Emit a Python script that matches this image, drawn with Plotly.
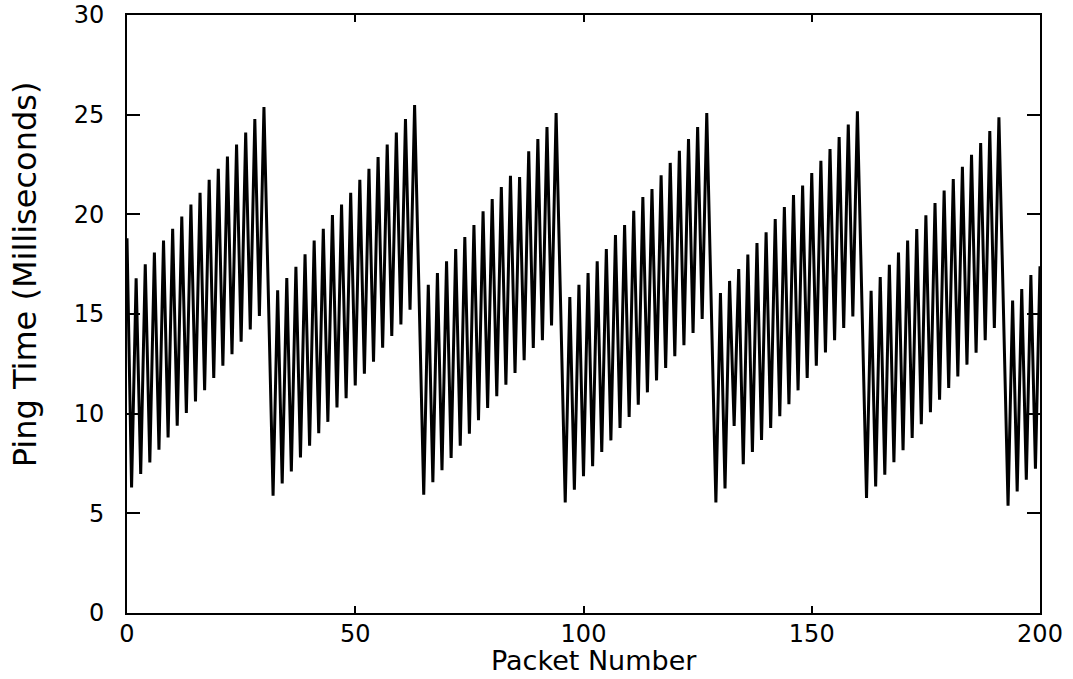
import plotly.graph_objects as go

# Ping time (ms) per packet, grouped by ramp cycle
cycle1 = [18.8, 6.30, 16.79, 6.97, 17.50, 7.55, 18.09, 8.19, 18.69, 8.81,
          19.27, 9.39, 19.89, 10.03, 20.49, 10.61, 21.08, 11.18, 21.73, 11.79,
          22.28, 12.40, 22.90, 12.98, 23.50, 13.61, 24.10, 14.23, 24.78, 14.90,
          25.38, 15.6]                                   # packets 0-31
cycle2 = [5.88, 16.19, 6.50, 16.80, 7.10, 17.37, 7.80, 17.99, 8.39, 18.69,
          9.02, 19.27, 9.59, 19.97, 10.31, 20.49, 10.78, 21.08, 11.41, 21.73,
          12.01, 22.28, 12.61, 22.88, 13.31, 23.50, 13.90, 24.10, 14.47, 24.78,
          15.22, 25.48, 15.7]                            # packets 32-64
cycle3 = [5.94, 16.47, 6.56, 17.06, 7.16, 17.64, 7.78, 18.26, 8.39, 18.86,
          9.00, 19.46, 9.67, 20.15, 10.28, 20.77, 10.87, 21.37, 11.45, 21.94,
          12.04, 21.87, 12.68, 23.16, 13.29, 23.78, 13.68, 24.38, 14.43, 25.08,
          15.3]                                          # packets 65-95
cycle4 = [5.55, 15.85, 6.19, 16.47, 6.86, 17.06, 7.36, 17.64, 8.08, 18.26,
          8.66, 18.96, 9.28, 19.46, 9.83, 20.18, 10.45, 20.87, 11.07, 21.27,
          11.67, 21.96, 12.29, 22.58, 12.88, 23.19, 13.43, 23.78, 14.05, 24.38,
          14.75, 25.08, 15.3]                            # packets 96-128
cycle5 = [5.55, 16.05, 6.25, 16.66, 9.38, 17.26, 7.46, 17.98, 8.08, 18.56,
          8.68, 19.10, 9.28, 19.77, 9.87, 20.37, 10.48, 20.97, 11.17, 21.45,
          11.79, 22.07, 12.41, 22.69, 13.07, 23.28, 13.68, 23.88, 14.30, 24.50,
          14.88, 25.17, 15.5]                            # packets 129-161
cycle6 = [5.77, 16.17, 6.35, 16.86, 6.94, 17.47, 7.56, 18.09, 8.16, 18.68,
          8.78, 19.26, 9.47, 19.95, 10.07, 20.57, 10.70, 21.19, 11.29, 21.77,
          11.87, 22.39, 12.46, 22.99, 13.06, 23.58, 13.68, 24.18, 14.30, 24.87,
          15.1]                                          # packets 162-192
cycle7 = [5.38, 15.67, 6.10, 16.25, 6.69, 16.96, 7.24, 17.4]  # packets 193-200

ping_ms = cycle1 + cycle2 + cycle3 + cycle4 + cycle5 + cycle6 + cycle7
packet = list(range(len(ping_ms)))

x_ticks = [0, 50, 100, 150, 200]
y_ticks = [0, 5, 10, 15, 20, 25, 30]
x_title = "Packet Number"
y_title = "Ping Time (Milliseconds)"

FONT = "DejaVu Sans"

fig = go.Figure()
fig.add_trace(go.Scatter(
    x=packet, y=ping_ms, mode="lines",
    line=dict(color="black", width=3),
    showlegend=False, hoverinfo="skip",
))

axis_common = dict(
    showline=True, linecolor="black", linewidth=2,
    mirror="ticks", ticks="inside", tickcolor="black", tickwidth=2,
    showgrid=False, zeroline=False, automargin=False,
    tickfont=dict(family=FONT, size=24, color="black"),
)

fig.update_xaxes(range=[0, 200], tickvals=x_ticks, ticklen=7,
                 ticklabelstandoff=-2, **axis_common)
fig.update_yaxes(range=[0, 30], tickvals=y_ticks, ticklen=13,
                 ticklabelstandoff=16, **axis_common)

fig.add_annotation(text=x_title, xref="paper", yref="paper",
                   x=0.511, y=-0.108, xanchor="center", yanchor="bottom",
                   showarrow=False,
                   font=dict(family=FONT, size=27, color="black"))
fig.add_annotation(text=y_title, xref="paper", yref="paper",
                   x=-0.112, y=0.566, xanchor="center", yanchor="middle",
                   textangle=-90, showarrow=False,
                   font=dict(family=FONT, size=32, color="black"))

fig.update_layout(
    width=1073, height=679,
    margin=dict(l=127, r=33, t=15, b=66),
    paper_bgcolor="white", plot_bgcolor="white",
)

fig.write_html("out.html",
               config={"displayModeBar": False},
               post_script="document.body.style.margin='0px';")
